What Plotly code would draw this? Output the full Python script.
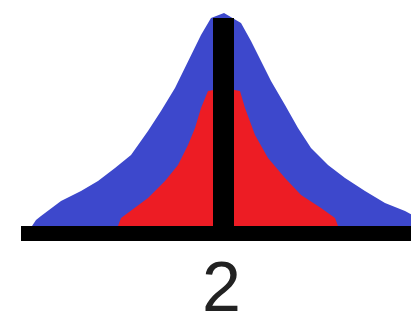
import plotly.graph_objects as go

# Outer (blue) profile: horizontal offset from centre and height
blue_x = [-192, -188, -183, -163, -143, -126, -109, -93, -76, -63, -49, -36, -23, -13, 0,
          17, 27, 37, 47, 61, 74, 87, 104, 121, 141, 161, 181, 194, 198]
blue_y = [0, 6, 10, 25, 35, 45, 58, 71, 95, 115, 138, 165, 191, 208, 213,
          203, 185, 165, 145, 121, 98, 78, 61, 48, 35, 23, 15, 8, 0]

# Inner (red) profile
red_x = [-106, -103, -76, -59, -46, -36, -29, -23, -16, 0,
         16, 21, 31, 44, 61, 77, 97, 111, 114]
red_y = [0, 8, 28, 45, 61, 81, 98, 118, 135, 138,
         135, 118, 91, 68, 48, 31, 18, 8, 0]

category_label = "2"

BLUE = "rgb(61,72,204)"
RED = "rgb(237,28,36)"

fig = go.Figure()
fig.add_trace(go.Scatter(x=blue_x, y=blue_y, mode="lines", fill="tozeroy",
                         line=dict(width=0, color=BLUE),
                         fillcolor=BLUE, hoverinfo="skip"))
fig.add_trace(go.Scatter(x=red_x, y=red_y, mode="lines", fill="tozeroy",
                         line=dict(width=0, color=RED),
                         fillcolor=RED, hoverinfo="skip"))

# baseline and centre line
fig.add_shape(type="rect", x0=-203, x1=203, y0=-15, y1=0, fillcolor="black", line_width=0)
fig.add_shape(type="rect", x0=-11, x1=10, y0=-15, y1=208, fillcolor="black", line_width=0)

fig.add_annotation(x=-3, y=-61, text=category_label, showarrow=False,
                   font=dict(family="Liberation Sans, Arial", size=70, color="#222222"),
                   xanchor="center", yanchor="middle")

fig.update_layout(
    width=419, height=325,
    margin=dict(l=0, r=0, t=0, b=0),
    paper_bgcolor="white", plot_bgcolor="white",
    showlegend=False,
    xaxis=dict(range=[-216, 203], visible=False, fixedrange=True),
    yaxis=dict(range=[-107, 218], visible=False, fixedrange=True),
)

fig.write_html("out.html")
